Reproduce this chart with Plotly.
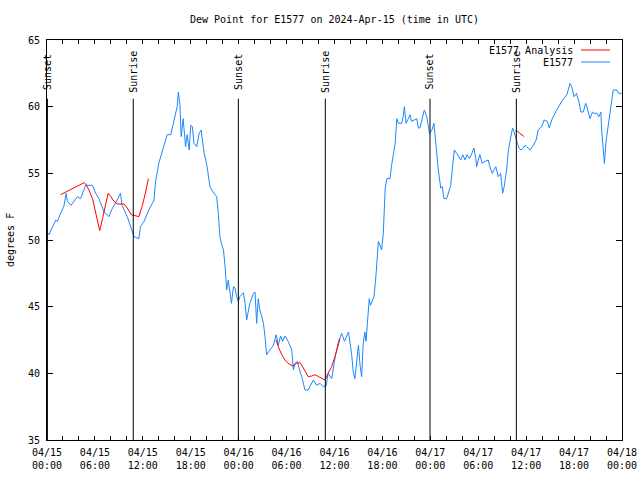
import pandas as pd
import plotly.graph_objects as go

# ---- data (hours since 2024-04-15 00:00 UTC, dew point in F) ----
obs_hours = [0.0, 0.25, 1.1, 1.3, 1.7, 2.1, 2.4, 2.55, 3.0, 3.4, 3.8, 4.2, 4.85, 5.7, 6.1, 6.5,
             7.15, 7.75, 8.2, 8.6, 9.2, 9.4, 10.05, 10.7, 10.9, 11.5, 11.7, 12.15, 12.75, 13.4,
             13.6, 14.0, 14.45, 15.05, 15.5, 15.9, 16.3, 16.45, 16.65, 16.8, 17.05, 17.35, 17.55,
             17.8, 18.0, 18.2, 18.4, 18.75, 19.05, 19.3, 19.65, 20.05, 20.4, 20.8, 21.25, 21.45,
             21.65, 21.9, 22.1, 22.3, 22.4, 22.5, 22.7, 22.9, 23.1, 23.35, 23.55, 23.75, 23.95,
             24.15, 24.6, 24.8, 25.0, 25.4, 25.85, 26.05, 26.25, 26.45, 26.65, 26.9, 27.1, 27.3,
             27.5, 27.9, 28.35, 28.7, 28.95, 29.25, 29.5, 29.8, 30.2, 30.65, 30.85, 31.05, 31.35,
             31.7, 31.9, 32.3, 32.7, 33.35, 33.75, 34.2, 34.6, 34.95, 35.1, 35.2, 35.65, 36.05,
             36.5, 36.9, 37.25, 37.75, 38.15, 38.35, 38.55, 39.0, 39.2, 39.4, 39.6, 39.8, 39.95,
             40.25, 40.35, 40.5, 40.95, 41.2, 41.35, 41.5, 41.7, 41.9, 42.1, 42.25, 42.35, 42.55,
             42.95, 43.15, 43.35, 43.6, 43.8, 44.0, 44.4, 44.6, 44.75, 44.95, 45.25, 45.45, 45.65,
             46.1, 46.3, 46.5, 46.7, 47.25, 47.55, 47.9, 48.2, 48.45, 48.6, 48.8, 49.0, 49.3, 49.5,
             49.7, 50.05, 50.55, 50.9, 51.0, 51.3, 51.6, 51.8, 52.05, 52.35, 52.6, 52.9, 53.2,
             53.45, 53.7, 53.8, 54.0, 54.2, 54.5, 54.85, 55.25, 55.45, 55.75, 55.95, 56.2, 56.5,
             56.8, 57.05, 57.25, 57.55, 57.75, 58.0, 58.3, 58.5, 58.7, 58.9, 59.1, 59.35, 59.65,
             59.85, 60.05, 60.5, 60.9, 61.25, 61.5, 61.95, 62.25, 62.65, 62.9, 63.2, 63.6, 64.0,
             64.45, 65.1, 65.5, 65.7, 66.0, 66.3, 66.65, 66.85, 67.15, 67.45, 67.65, 68.0, 68.3,
             68.5, 68.85, 69.1, 69.35, 69.45, 69.65, 69.8, 70.0, 70.2, 70.5, 70.7, 70.9, 71.35,
             71.6, 71.95]
obs_dewpt = [50.6, 50.4, 51.5, 51.4, 52.0, 52.5, 53.5, 52.9, 52.6, 52.9, 53.25, 53.1, 54.1, 54.1,
             53.5, 53.1, 52.1, 51.75, 52.4, 52.8, 53.5, 52.6, 51.75, 50.6, 50.25, 50.1, 51.0, 51.4,
             52.25, 53.0, 54.4, 55.75, 56.6, 57.9, 57.9, 58.9, 60.0, 61.1, 60.1, 57.75, 59.1, 57.0,
             57.9, 56.75, 58.6, 58.5, 57.25, 57.0, 58.0, 58.25, 56.6, 55.5, 54.0, 53.6, 53.25, 52.0,
             50.25, 49.6, 49.25, 48.0, 46.75, 46.25, 47.0, 46.25, 45.25, 46.5, 46.4, 45.75, 45.4,
             45.75, 46.05, 45.25, 44.0, 45.25, 46.0, 46.1, 43.75, 45.6, 44.75, 44.25, 43.75, 42.75,
             41.4, 41.75, 42.1, 42.9, 42.1, 42.8, 42.4, 42.8, 42.4, 41.75, 40.25, 40.75, 40.9,
             40.1, 39.75, 38.75, 38.75, 39.5, 39.1, 39.25, 39.0, 39.05, 39.75, 40.0, 39.6, 41.1,
             42.4, 43.0, 42.4, 43.1, 41.4, 40.1, 39.6, 42.1, 40.6, 39.75, 42.25, 43.1, 42.4,
             44.9, 45.6, 45.1, 45.75, 47.4, 48.6, 49.9, 49.6, 49.25, 50.4, 52.0, 53.9, 54.6,
             54.6, 55.6, 56.4, 57.25, 59.1, 58.75, 58.75, 59.25, 60.0, 58.75, 59.1, 59.4, 58.9,
             59.0, 59.1, 58.4, 58.4, 59.75, 59.25, 58.0, 58.25, 58.75, 57.75, 56.75, 55.25, 53.9, 54.0,
             53.1, 53.1, 54.1, 56.0, 56.75, 56.5, 56.25, 56.0, 56.4, 56.0, 56.4, 56.1, 56.5,
             56.9, 56.1, 55.5, 56.0, 56.4, 55.75, 55.9, 56.0, 55.5, 55.0, 55.25, 55.5, 54.75,
             55.0, 53.5, 54.0, 55.25, 56.6, 57.5, 58.4, 58.1, 57.6, 57.25, 56.9, 56.75, 56.9,
             57.1, 57.0, 56.75, 57.1, 57.5, 58.25, 58.5, 59.0, 58.9, 58.4, 59.0, 59.5, 59.9,
             60.4, 60.9, 61.75, 61.5, 60.75, 61.0, 60.25, 59.6, 59.6, 60.25, 59.9, 59.1, 59.6,
             59.5, 59.5, 59.25, 59.6, 58.25, 56.75, 55.75, 57.4, 58.25, 59.25, 60.25, 61.25, 61.25,
             61.0, 61.0]

ana_seg1_hours = [1.7, 2.35, 3.4, 4.0, 4.65, 4.85, 5.25, 5.7, 6.1, 6.4, 6.6, 6.95, 7.25, 7.65, 8.0,
                  8.4, 8.8, 9.65, 10.05, 10.55, 11.5, 11.95, 12.35, 12.7]
ana_seg1_dewpt = [53.4, 53.6, 53.9, 54.1, 54.3, 54.2, 53.75, 53.1, 52.1, 51.4, 50.7, 51.6, 52.4, 53.5,
                  53.25, 52.9, 52.7, 52.7, 52.4, 51.9, 51.75, 52.6, 53.6, 54.6]
ana_seg2_hours = [28.7, 28.95, 29.4, 29.8, 30.2, 30.75, 31.25, 31.7, 32.1, 32.45, 32.7, 33.15, 33.55,
                  34.0, 34.4, 34.8, 35.2, 35.65, 36.05, 36.5, 36.7]
ana_seg2_dewpt = [42.5, 42.0, 41.4, 41.0, 40.75, 40.55, 40.75, 40.8, 40.4, 39.95, 39.75, 39.8, 39.9,
                  39.75, 39.6, 39.5, 40.0, 40.5, 41.25, 42.25, 42.6]
ana_seg3_hours = [58.7, 59.2, 59.75]
ana_seg3_dewpt = [58.25, 58.0, 57.75]

sun_event_hours = [0.05, 10.8, 23.96, 34.85, 47.96, 58.77]
sun_event_labels = ["Sunset", "Sunrise", "Sunset", "Sunrise", "Sunset", "Sunrise"]

tick_hours = list(range(0, 73, 2))
tick_label_hours = [0, 6, 12, 18, 24, 30, 36, 42, 48, 54, 60, 66, 72]
y_ticks = [35, 40, 45, 50, 55, 60, 65]

title_text = "Dew Point for E1577 on 2024-Apr-15 (time in UTC)"
ytitle_text = "degrees F"
series_names = ["E1577 Analysis", "E1577"]
series_colors = ["#ff0000", "#1a88ff"]

# ---- build ----
base = pd.Timestamp("2024-04-15 00:00")
def to_time(hs):
    return [base + pd.Timedelta(hours=h) for h in hs]

ana_x, ana_y = [], []
for hs, vs in [(ana_seg1_hours, ana_seg1_dewpt), (ana_seg2_hours, ana_seg2_dewpt),
               (ana_seg3_hours, ana_seg3_dewpt)]:
    ana_x += to_time(hs) + [None]
    ana_y += vs + [None]

FONT = "DejaVu Sans Mono"
fig = go.Figure()
fig.add_trace(go.Scatter(x=to_time(obs_hours), y=obs_dewpt, mode="lines", name=series_names[1],
                         line=dict(color=series_colors[1], width=1), showlegend=False))
fig.add_trace(go.Scatter(x=ana_x, y=ana_y, mode="lines", name=series_names[0], connectgaps=False,
                         line=dict(color=series_colors[0], width=1), showlegend=False))

for h, lab in zip(sun_event_hours, sun_event_labels):
    t = base + pd.Timedelta(hours=h)
    fig.add_shape(type="line", xref="x", yref="y", x0=t, x1=t, y0=35, y1=60.6,
                  line=dict(color="black", width=1))
    fig.add_annotation(x=t, xref="x", y=0.921, yref="paper", text=lab, textangle=-90,
                       showarrow=False, xanchor="center", yanchor="middle",
                       font=dict(family=FONT, size=10, color="black"))

# key (gnuplot-style: text then sample line)
for i, (nm, col) in enumerate(zip(series_names, series_colors)):
    yk = 0.975 - i * 0.03
    fig.add_annotation(x=0.918, y=yk, xref="paper", yref="paper", text=nm, showarrow=False,
                       xanchor="right", yanchor="middle", font=dict(family=FONT, size=10, color="black"))
    fig.add_shape(type="line", xref="paper", yref="paper", x0=0.9287, x1=0.979, y0=yk, y1=yk,
                  line=dict(color=col, width=1))

fig.add_annotation(x=-0.0643, y=0.5, xref="paper", yref="paper", text=ytitle_text, textangle=-90,
                   showarrow=False, xanchor="center", yanchor="middle",
                   font=dict(family=FONT, size=10, color="black"))

tickvals = to_time(tick_hours)
ticktext = []
for h in tick_hours:
    if h in tick_label_hours:
        t = base + pd.Timedelta(hours=h)
        ticktext.append(t.strftime("%m/%d") + "<br>" + t.strftime("%H:%M"))
    else:
        ticktext.append("")

fig.update_layout(
    width=640, height=480,
    margin=dict(l=47, r=18, t=40, b=40, autoexpand=False),
    paper_bgcolor="white", plot_bgcolor="white",
    font=dict(family=FONT, size=10, color="black"),
    title=dict(text=title_text, x=0.5, xref="paper", xanchor="center", y=1 - 19 / 480,
               yanchor="middle", yref="container", automargin=False,
               font=dict(family=FONT, size=10, color="black")),
    showlegend=False,
)
fig.update_xaxes(range=[base, base + pd.Timedelta(hours=72)], tickmode="array", tickvals=tickvals,
                 ticktext=ticktext, ticks="inside", ticklen=4, tickcolor="black", mirror="ticks",
                 showline=True, linecolor="black", linewidth=1, showgrid=False, zeroline=False,
                 automargin=False, ticklabelstandoff=3)
fig.update_yaxes(range=[35, 65], tickmode="array", tickvals=y_ticks, ticks="inside", ticklen=6,
                 tickcolor="black", mirror="ticks", showline=True, linecolor="black", linewidth=1,
                 showgrid=False, zeroline=False, ticklabelstandoff=4, automargin=False)

fig.write_html("out.html", config={"displayModeBar": False},
               post_script="document.body.style.margin='0';document.body.style.overflow='hidden';")
